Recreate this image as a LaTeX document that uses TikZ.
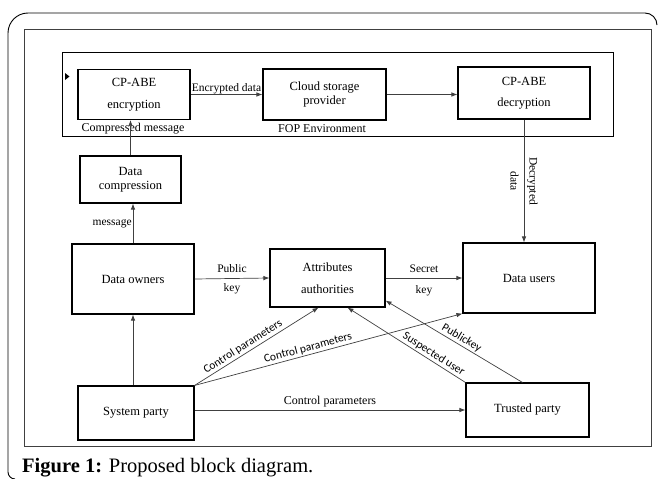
\documentclass[tikz,border=0pt]{standalone}
\usepackage{fontspec}
\setmainfont{Liberation Serif}
\newfontfamily\carlito{Carlito}
\usetikzlibrary{arrows.meta}

\begin{document}
\begin{tikzpicture}[x = 1pt, y = -1pt, > = {Latex[length = 6pt, width = 4.5pt]},
	block/.style = {draw, line width = 1.1pt, align = center, inner sep = 0pt,
		font = \fontsize{12.5}{14.5}\selectfont},
	flow/.style = {->, draw = black!75, line width = 0.7pt},
	lbl/.style = {font = \fontsize{11.5}{13}\selectfont, inner sep = 1pt},
	slbl/.style = {font = \carlito\fontsize{11.5}{13}\selectfont, inner sep = 1.5pt, sloped, above}]

	\useasboundingbox (0, 0) rectangle (659, 479);

	% Frames

	\draw [line width = 0.9pt] (15, 479) arc [start angle = 90, end angle = 180, radius = 7]
		-- (8, 33) arc [start angle = 180, end angle = 270, radius = 20]
		-- (645, 13) arc [start angle = 270, end angle = 360, radius = 12];
	\draw [line width = 1pt, draw = black!75] (24, 29) rectangle (651, 446);
	\draw [line width = 1pt] (62, 52) rectangle (613, 136);
	\fill (65, 73) -- (69.5, 76.5) -- (65, 80) -- cycle;

	% FOP environment

	\node [block, minimum width = 112, minimum height = 50] (enc) at (134, 94.5)
		{CP-ABE\\[7pt] encryption};
	\node [block, minimum width = 123, minimum height = 51] (cloud) at (324.5, 94.5)
		{Cloud storage\\ provider};
	\node [block, minimum width = 132, minimum height = 52] (dec) at (524, 93)
		{CP-ABE\\[6pt] decryption};

	\node [lbl, font = \fontsize{12}{14}\selectfont] (cmsg) at (133, 129) {Compressed message};
	\node [lbl, font = \fontsize{12}{14}\selectfont] (fop) at (322, 129) {FOP Environment};

	% Parties

	\node [block, minimum width = 101, minimum height = 47] (dcomp) at (130.5, 179.5)
		{Data\\ compression};
	\node [block, minimum width = 122, minimum height = 70] (owners) at (133, 279) {Data owners};
	\node [block, minimum width = 115, minimum height = 58] (attr) at (327.5, 278)
		{Attributes\\[7pt] authorities};
	\node [block, minimum width = 132, minimum height = 70] (users) at (529, 278) {Data users};
	\node [block, minimum width = 116, minimum height = 54] (system) at (136, 413) {System party};
	\node [block, minimum width = 123, minimum height = 54] (trusted) at (527.5, 410) {Trusted party};

	% Data flow

	\draw [flow] (enc.east) -- (cloud.west)
		node [lbl, midway, above, inner sep = 0.5pt] {Encrypted data};
	\draw [flow] (cloud.east) -- (cloud.east -| dec.west);
	\draw [flow] (dcomp.north) -- (dcomp.north |- enc.south);
	\draw [flow] (owners.north) -- (owners.north |- dcomp.south)
		node [lbl, midway, left] {message};
	\draw [flow] (dec.south) -- (dec.south |- users.north)
		node [lbl, midway, rotate = -90, align = center] {Decrypted\\[6pt] data};

	% Keys

	\draw [flow] (owners.east) -- (attr.west)
		node [lbl, midway, above = 5pt] {Public}
		node [lbl, midway, below = 4pt] {key};
	\draw [flow] (attr.east) -- (users.west)
		node [lbl, midway, above = 4pt] {Secret}
		node [lbl, midway, below = 6pt] {key};

	% Control parameters

	\draw [flow] (system.north -| owners.north) -- (owners.south);
	\draw [flow] (system.north east) -- ([xshift = -9pt] attr.south)
		node [slbl, pos = 0.42] {Control parameters};
	\draw [flow] (system.north east) -- (users.south west)
		node [slbl, pos = 0.43] {Control parameters};
	\draw [flow] (trusted.west -| system.east) -- (trusted.west)
		node [lbl, midway, above = 2pt, font = \fontsize{12}{14}\selectfont] {Control parameters};

	% Trusted party feedback

	\draw [flow] (trusted.north west) -- ([xshift = 20pt] attr.south)
		node [slbl, pos = 0.3] {Suspected user};
	\draw [flow] ([xshift = -5pt] trusted.north) -- ([yshift = 7pt] attr.south east)
		node [slbl, pos = 0.47] {Publickey};

	% Caption

	\node [anchor = west, inner sep = 0pt, font = \fontsize{20.5}{23}\selectfont] (caption) at (22, 468)
		{\textbf{Figure 1:} Proposed block diagram.};

\end{tikzpicture}
\end{document}
